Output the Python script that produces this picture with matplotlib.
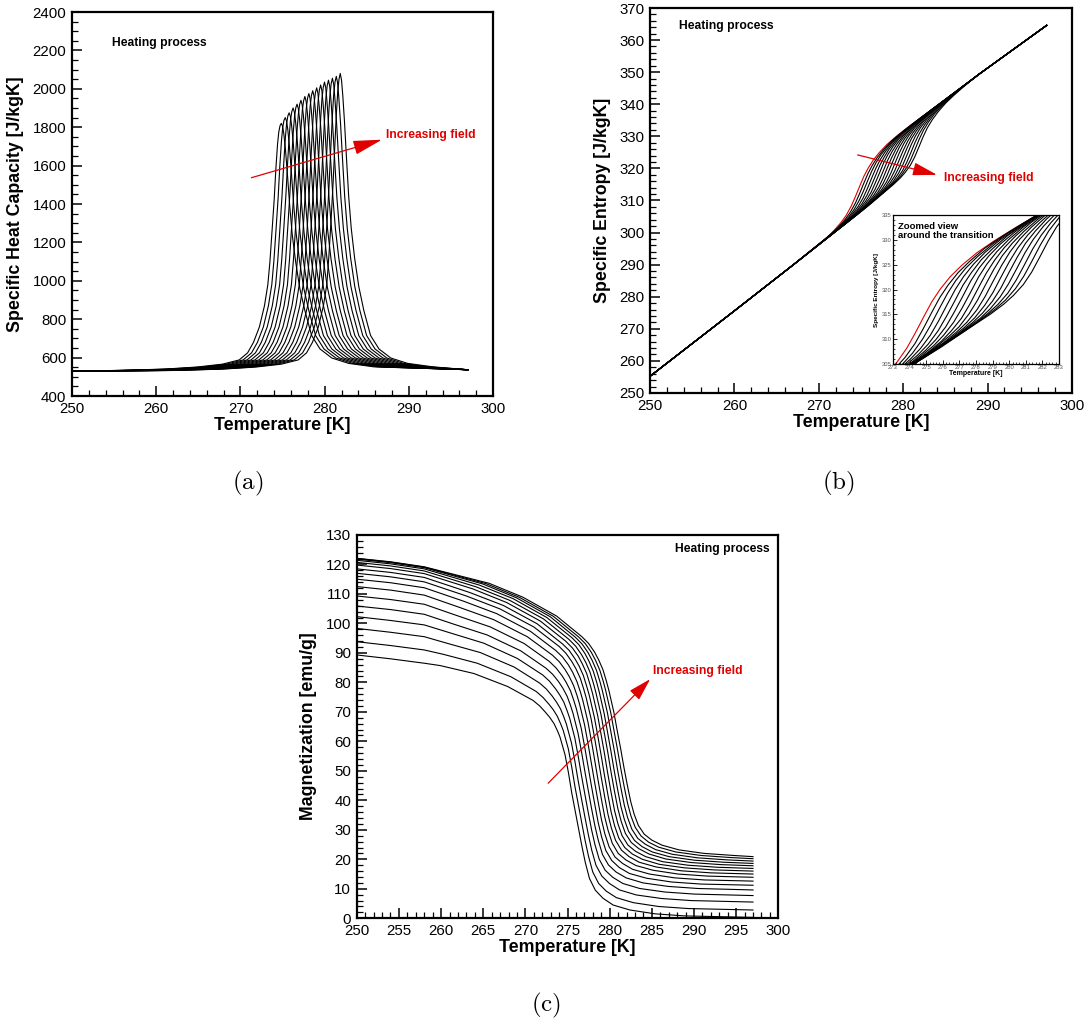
import matplotlib.pyplot as plt
from matplotlib.ticker import MultipleLocator

plt.rcParams['font.family'] = ['Liberation Sans', 'DejaVu Sans']
plt.rcParams['mathtext.fontset'] = 'cm'

RED = '#e00000'

# ---------------- (a) specific heat capacity, one row per field value ----------------
cp_peak_T = [274.85, 275.32, 275.78, 276.25, 276.72, 277.18, 277.65, 278.12,
             278.58, 279.05, 279.52, 279.98, 280.45, 280.92, 281.38, 281.85]
# offsets from each peak (K); curves also start at 250 K and end at 297 K
cp_dT = [-20, -14, -10, -7, -5, -4, -3.3, -2.6, -2.0, -1.6,
         -1.35, -1.1, -0.85, -0.65, -0.45, -0.3, -0.15, 0, 0.15, 0.3, 0.5, 0.75, 1.0, 1.3, 1.7, 2.2,
         2.8, 3.6, 4.6, 6.0, 8.0, 11.0]
cp_left = [530, 533, 540, 551, 566, 588, 625, 680, 760, 870, 980]
cp_right = [845, 715, 645, 598, 570, 552, 537]
cp_peak = [
    [1100, 1260, 1420, 1580, 1710, 1775, 1808, 1820, 1805, 1765, 1680, 1540, 1390, 1240, 1100, 960],
    [1105, 1265, 1430, 1595, 1730, 1800, 1836, 1850, 1833, 1788, 1697, 1550, 1396, 1244, 1102, 961],
    [1105, 1270, 1440, 1605, 1745, 1820, 1859, 1875, 1856, 1807, 1712, 1559, 1401, 1247, 1104, 962],
    [1110, 1275, 1450, 1615, 1760, 1840, 1882, 1900, 1879, 1827, 1726, 1568, 1405, 1251, 1106, 963],
    [1110, 1280, 1455, 1625, 1775, 1855, 1901, 1920, 1897, 1842, 1738, 1575, 1409, 1253, 1108, 964],
    [1115, 1285, 1460, 1635, 1790, 1870, 1919, 1940, 1916, 1857, 1749, 1582, 1413, 1256, 1109, 965],
    [1115, 1285, 1470, 1645, 1800, 1890, 1938, 1960, 1934, 1873, 1761, 1588, 1417, 1259, 1111, 965],
    [1120, 1290, 1475, 1650, 1810, 1900, 1952, 1975, 1948, 1884, 1769, 1594, 1420, 1261, 1112, 966],
    [1120, 1295, 1480, 1660, 1820, 1910, 1966, 1990, 1962, 1896, 1778, 1599, 1423, 1263, 1113, 967],
    [1120, 1295, 1485, 1665, 1830, 1925, 1980, 2005, 1976, 1907, 1787, 1604, 1426, 1265, 1114, 967],
    [1125, 1300, 1490, 1670, 1840, 1935, 1994, 2020, 1990, 1919, 1795, 1609, 1428, 1267, 1115, 968],
    [1125, 1300, 1495, 1680, 1850, 1950, 2008, 2035, 2004, 1930, 1804, 1614, 1431, 1269, 1117, 968],
    [1125, 1305, 1500, 1685, 1855, 1955, 2017, 2045, 2013, 1938, 1810, 1618, 1433, 1270, 1117, 969],
    [1125, 1305, 1500, 1690, 1865, 1965, 2027, 2055, 2023, 1946, 1816, 1621, 1435, 1272, 1118, 969],
    [1130, 1305, 1505, 1695, 1870, 1975, 2036, 2065, 2032, 1953, 1821, 1625, 1437, 1273, 1119, 969],
    [1130, 1310, 1510, 1700, 1880, 1985, 2050, 2080, 2045, 1965, 1830, 1630, 1440, 1275, 1120, 970],
]

# ---------------- (b) specific entropy ----------------
s_dT = [-6, -4, -3, -2.2, -1.6, -1.0, -0.5, 0, 0.5, 1.0, 1.6, 2.3, 3.2, 4.2, 5.5]
s_left_T = [250, 260, 267]
s_left = [255.2, 275.6, 290.0]
s_right_T = [289, 297]
s_right = [349.4, 364.6]
s_rows = [
    [294.0, 298.2, 300.8, 303.2, 305.4, 308.3, 311.3, 314.5, 317.6, 320.1, 322.6, 324.9, 327.4, 329.7, 332.4],
    [294.9, 299.2, 301.7, 304.1, 306.3, 309.1, 312.1, 315.3, 318.4, 320.9, 323.4, 325.7, 328.3, 330.6, 333.3],
    [295.9, 300.2, 302.7, 305.0, 307.2, 310.0, 312.9, 316.1, 319.2, 321.8, 324.3, 326.6, 329.1, 331.5, 334.2],
    [296.9, 301.1, 303.6, 306.0, 308.1, 310.8, 313.7, 316.9, 320.0, 322.6, 325.1, 327.5, 330.0, 332.3, 335.1],
    [297.8, 302.1, 304.6, 306.9, 309.0, 311.7, 314.6, 317.7, 320.9, 323.4, 326.0, 328.3, 330.9, 333.2, 336.0],
    [298.8, 303.1, 305.5, 307.8, 309.9, 312.5, 315.4, 318.5, 321.7, 324.3, 326.8, 329.2, 331.7, 334.1, 336.9],
    [299.7, 304.0, 306.5, 308.7, 310.8, 313.4, 316.2, 319.3, 322.5, 325.1, 327.6, 330.0, 332.6, 335.0, 337.8],
    [300.7, 305.0, 307.4, 309.6, 311.7, 314.2, 317.0, 320.2, 323.3, 325.9, 328.5, 330.9, 333.5, 335.9, 338.7],
    [301.6, 306.0, 308.4, 310.6, 312.5, 315.1, 317.8, 321.0, 324.1, 326.8, 329.3, 331.7, 334.3, 336.7, 339.6],
    [302.6, 307.0, 309.3, 311.5, 313.4, 315.9, 318.6, 321.8, 324.9, 327.6, 330.2, 332.6, 335.2, 337.6, 340.5],
    [303.5, 307.9, 310.3, 312.4, 314.3, 316.8, 319.4, 322.6, 325.7, 328.4, 331.0, 333.4, 336.1, 338.5, 341.4],
    [304.5, 308.9, 311.2, 313.3, 315.2, 317.6, 320.2, 323.4, 326.5, 329.3, 331.8, 334.3, 336.9, 339.4, 342.3],
    [305.4, 309.9, 312.2, 314.2, 316.1, 318.5, 321.1, 324.2, 327.4, 330.1, 332.7, 335.1, 337.8, 340.3, 343.2],
    [306.4, 310.9, 313.1, 315.2, 317.0, 319.3, 321.9, 325.0, 328.2, 330.9, 333.5, 336.0, 338.7, 341.1, 344.1],
    [307.4, 311.8, 314.1, 316.1, 317.9, 320.2, 322.7, 325.8, 329.0, 331.8, 334.4, 336.9, 339.5, 342.0, 345.0],
    [308.3, 312.8, 315.0, 317.0, 318.8, 321.0, 323.5, 326.6, 329.8, 332.6, 335.2, 337.7, 340.4, 342.9, 345.9],
]

# ---------------- (c) magnetization ----------------
m_mid_T = [275.9, 276.29, 276.67, 277.06, 277.45, 277.84, 278.22, 278.61,
           279.0, 279.38, 279.77, 280.16, 280.54, 280.93, 281.32, 281.7]
m_dT = [-16, -12, -8, -5, -4.2, -3.5, -3.0, -2.5, -2.1, -1.8, -1.2, -0.8, -0.4, 0, 0.4, 0.8,
        1.2, 1.7, 2.4, 3.3, 4.5, 6.5, 9.5, 13]
m_left_T = [250, 254, 258]
m_rows = [
    [89.3, 88.0, 86.5, 85.7, 83.0, 78.6, 73.9, 72.0, 69.8, 68.1, 66.0, 63.6, 61.5, 55.5, 49.5, 42.5, 36.5, 30.5, 24.5, 19.0, 13.5, 9.5, 6.8, 4.5, 2.8, 1.5, 0.8, 0.3],
    [93.8, 92.5, 91.0, 89.5, 86.5, 81.9, 76.9, 74.9, 72.6, 70.8, 68.5, 65.9, 63.7, 57.5, 51.4, 44.5, 38.4, 32.3, 26.3, 21.0, 15.7, 11.8, 9.2, 7.0, 5.3, 4.0, 3.3, 2.8],
    [98.3, 97.0, 95.5, 93.3, 90.1, 85.2, 79.8, 77.8, 75.4, 73.4, 71.0, 68.2, 65.8, 59.4, 53.3, 46.5, 40.3, 34.2, 28.3, 23.1, 18.0, 14.3, 11.8, 9.6, 7.9, 6.7, 6.0, 5.5],
    [102.3, 101.0, 99.5, 96.8, 93.3, 88.1, 82.5, 80.4, 77.9, 75.8, 73.3, 70.3, 67.8, 61.2, 55.0, 48.3, 42.0, 35.8, 29.9, 24.9, 20.0, 16.3, 13.9, 11.8, 10.1, 8.9, 8.2, 7.7],
    [105.9, 104.7, 103.1, 99.8, 96.1, 90.7, 84.8, 82.7, 80.2, 78.0, 75.3, 72.2, 69.5, 62.7, 56.6, 49.9, 43.5, 37.2, 31.3, 26.4, 21.6, 18.1, 15.7, 13.7, 12.0, 10.8, 10.1, 9.6],
    [109.3, 108.1, 106.5, 102.7, 98.8, 93.2, 87.1, 84.9, 82.3, 80.0, 77.2, 73.9, 71.1, 64.2, 58.0, 51.4, 44.8, 38.5, 32.4, 27.6, 23.0, 19.6, 17.2, 15.2, 13.6, 12.3, 11.6, 11.2],
    [112.5, 111.3, 109.6, 105.4, 101.3, 95.5, 89.2, 87.0, 84.3, 81.9, 78.9, 75.6, 72.7, 65.6, 59.4, 52.7, 46.0, 39.6, 33.5, 28.7, 24.3, 20.8, 18.6, 16.6, 15.0, 13.7, 13.0, 12.6],
    [115.0, 113.8, 112.1, 107.6, 103.3, 97.3, 90.8, 88.6, 85.9, 83.4, 80.3, 76.9, 73.9, 66.7, 60.5, 53.8, 47.0, 40.5, 34.4, 29.8, 25.4, 22.0, 19.8, 17.9, 16.3, 15.0, 14.3, 13.9],
    [117.0, 115.8, 114.1, 109.3, 104.9, 98.8, 92.2, 89.9, 87.1, 84.6, 81.5, 77.9, 74.9, 67.6, 61.3, 54.7, 47.8, 41.3, 35.2, 30.6, 26.4, 23.1, 20.9, 19.0, 17.4, 16.1, 15.4, 15.0],
    [118.5, 117.3, 115.6, 110.5, 106.1, 99.9, 93.1, 90.9, 88.0, 85.5, 82.3, 78.6, 75.6, 68.2, 62.0, 55.4, 48.5, 42.0, 35.9, 31.4, 27.2, 24.0, 21.8, 20.0, 18.3, 17.1, 16.4, 16.0],
    [119.8, 118.6, 116.9, 111.7, 107.1, 100.8, 94.0, 91.7, 88.9, 86.2, 83.0, 79.3, 76.2, 68.8, 62.5, 56.0, 49.1, 42.6, 36.6, 32.1, 28.0, 24.8, 22.7, 20.9, 19.2, 18.0, 17.3, 16.9],
    [120.7, 119.5, 117.8, 112.4, 107.8, 101.5, 94.6, 92.3, 89.4, 86.8, 83.5, 79.8, 76.6, 69.2, 62.9, 56.5, 49.6, 43.2, 37.3, 32.9, 28.8, 25.7, 23.6, 21.8, 20.1, 18.9, 18.2, 17.8],
    [121.4, 120.2, 118.5, 113.0, 108.4, 102.0, 95.1, 92.8, 89.9, 87.2, 83.9, 80.2, 77.0, 69.5, 63.2, 56.8, 50.0, 43.7, 37.8, 33.5, 29.5, 26.4, 24.3, 22.5, 20.9, 19.7, 19.0, 18.6],
    [121.8, 120.6, 118.9, 113.4, 108.7, 102.3, 95.3, 93.0, 90.1, 87.4, 84.1, 80.4, 77.2, 69.7, 63.4, 57.1, 50.4, 44.2, 38.4, 34.1, 30.2, 27.1, 25.1, 23.3, 21.7, 20.5, 19.8, 19.4],
    [122.0, 120.8, 119.1, 113.5, 108.8, 102.4, 95.4, 93.1, 90.2, 87.5, 84.2, 80.5, 77.3, 69.8, 63.5, 57.3, 50.7, 44.6, 39.0, 34.7, 30.9, 27.9, 25.8, 24.1, 22.5, 21.3, 20.6, 20.2],
    [122.1, 120.9, 119.2, 113.6, 108.9, 102.5, 95.5, 93.2, 90.3, 87.6, 84.3, 80.5, 77.3, 69.8, 63.5, 57.5, 51.0, 45.0, 39.5, 35.3, 31.5, 28.5, 26.5, 24.8, 23.2, 22.0, 21.3, 20.9],
]


def style(ax, xmaj, xmin, ymaj, ymin, lab=10.8, big=True):
    ax.xaxis.set_major_locator(MultipleLocator(xmaj))
    ax.xaxis.set_minor_locator(MultipleLocator(xmin))
    ax.yaxis.set_major_locator(MultipleLocator(ymaj))
    ax.yaxis.set_minor_locator(MultipleLocator(ymin))
    if big:
        ax.tick_params(which='major', direction='in', length=7, width=1.1, labelsize=lab, pad=4)
        ax.tick_params(which='minor', direction='in', length=4.2, width=0.9)
        for sp in ax.spines.values():
            sp.set_linewidth(1.6)
    else:
        ax.tick_params(which='major', direction='in', length=3, width=0.6, labelsize=lab, pad=1,
                       labelcolor='#555555')
        ax.tick_params(which='minor', direction='in', length=1.6, width=0.5)
        for sp in ax.spines.values():
            sp.set_linewidth(0.9)
    ax.tick_params(which='both', top=False, right=False)


def arrow(ax, tail, tip, hl, hw):
    ax.annotate('', xy=tip, xytext=tail,
                arrowprops=dict(arrowstyle='-|>,head_length=%s,head_width=%s' % (hl, hw),
                                color=RED, lw=0.9, shrinkA=0, shrinkB=0, mutation_scale=20))


fig = plt.figure(figsize=(10.91, 10.26), dpi=100)

# ---- (a)
ax1 = fig.add_axes([0.066, 0.614, 0.386, 0.3743])
for i, tp in enumerate(cp_peak_T):
    T = [250] + [tp + d for d in cp_dT] + [297]
    ax1.plot(T, cp_left + cp_peak[i] + cp_right, color='k', lw=0.8)
ax1.set_xlim(250, 300)
ax1.set_ylim(400, 2400)
style(ax1, 10, 2, 200, 50)
ax1.set_xlabel('Temperature [K]', fontsize=12.8, fontweight='bold', labelpad=1)
ax1.set_ylabel('Specific Heat Capacity [J/kgK]', fontsize=12.8, fontweight='bold', labelpad=6)
ax1.text(254.75, 2241, 'Heating process', fontsize=8.7, fontweight='bold', va='center')
arrow(ax1, (271.3, 1537), (286.8, 1735), 0.9, 0.22)
ax1.text(287.3, 1762, 'Increasing field', color=RED, fontsize=8.7, fontweight='bold', va='center')

# ---- (b)
ax2 = fig.add_axes([0.5958, 0.617, 0.3868, 0.3752])
axin = fig.add_axes([0.8185, 0.6452, 0.1522, 0.1452])
for i, tp in enumerate(cp_peak_T):
    T = s_left_T + [tp + d for d in s_dT] + s_right_T
    s = s_left + s_rows[i] + s_right
    col = RED if i == 0 else 'k'
    z = 1 if i == 0 else 2
    ax2.plot(T, s, color=col, lw=0.8, zorder=z)
    axin.plot(T, s, color=col, lw=0.8, zorder=z)
ax2.set_xlim(250, 300)
ax2.set_ylim(250, 370)
style(ax2, 10, 2, 10, 2)
ax2.set_xlabel('Temperature [K]', fontsize=12.8, fontweight='bold', labelpad=1)
ax2.set_ylabel('Specific Entropy [J/kgK]', fontsize=12.8, fontweight='bold', labelpad=6)
ax2.text(253.4, 364.5, 'Heating process', fontsize=8.7, fontweight='bold', va='center')
arrow(ax2, (274.6, 324.2), (284.0, 318.0), 0.75, 0.2)
ax2.text(284.8, 317.1, 'Increasing field', color=RED, fontsize=8.7, fontweight='bold', va='center')

axin.set_xlim(273, 283)
axin.set_ylim(305, 335)
style(axin, 1, 0.2, 5, 1, lab=4.2, big=False)
axin.set_xlabel('Temperature [K]', fontsize=5, fontweight='bold', labelpad=0)
axin.set_ylabel('Specific Entropy [J/kgK]', fontsize=4.6, fontweight='bold', labelpad=2)
axin.text(273.3, 333.6, 'Zoomed view\naround the transition', fontsize=6.8, fontweight='bold',
          va='top', linespacing=1.0)

# ---- (c)
ax3 = fig.add_axes([0.327, 0.105, 0.3864, 0.3736])
for i, tm in enumerate(m_mid_T):
    T = m_left_T + [tm + d for d in m_dT] + [297]
    ax3.plot(T, m_rows[i], color='k', lw=0.8)
ax3.set_xlim(250, 300)
ax3.set_ylim(0, 130)
style(ax3, 5, 1, 10, 2)
ax3.set_xlabel('Temperature [K]', fontsize=12.8, fontweight='bold', labelpad=1)
ax3.set_ylabel('Magnetization [emu/g]', fontsize=12.8, fontweight='bold', labelpad=6)
ax3.text(299.0, 125.1, 'Heating process', fontsize=8.7, fontweight='bold', va='center', ha='right')
arrow(ax3, (272.7, 45.8), (284.8, 81.1), 0.7, 0.2)
ax3.text(285.1, 83.7, 'Increasing field', color=RED, fontsize=8.7, fontweight='bold', va='center')

fig.text(248 / 1091, 1 - 483 / 1026, r'$\mathrm{(a)}$', fontsize=18, ha='center', va='center')
fig.text(838 / 1091, 1 - 483 / 1026, r'$\mathrm{(b)}$', fontsize=18, ha='center', va='center')
fig.text(546 / 1091, 1 - 1005 / 1026, r'$\mathrm{(c)}$', fontsize=18, ha='center', va='center')

fig.savefig('out.png', dpi=100)
